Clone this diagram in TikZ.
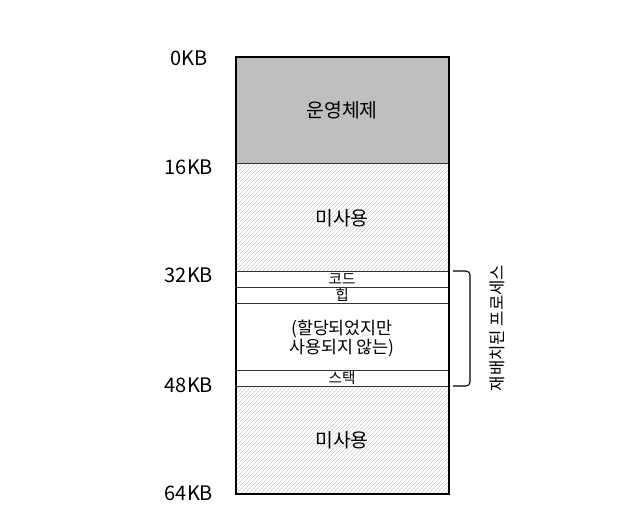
\documentclass[tikz,border=0pt]{standalone}
\usepackage{fontspec}
\setmainfont{Noto Sans CJK KR}
\usetikzlibrary{patterns}

\tikzset{
  unused/.style={pattern=north east lines, pattern color=gray!40},
  segline/.style={draw=black!80, line width=0.6pt},
  addr/.style={font=\fontsize{15}{15}\selectfont},
  small/.style={font=\fontsize{11}{11}\selectfont, inner sep=0pt},
}

\begin{document}
\begin{tikzpicture}[x=0.75pt, y=-0.75pt, font=\fontsize{14.5}{14.5}\selectfont]
\useasboundingbox (0,0) rectangle (620,522);
% memory blocks
\fill[gray!50] (236,57) rectangle (449,163);
\fill[unused] (236,163) rectangle (449,271);
\fill[unused] (236,386) rectangle (449,494);
\foreach \y in {163,271,287,303,370,386}
  \draw[segline] (236,\y) -- (449,\y);
\draw[line width=0.8pt] (236,57) rectangle (449,494);
\node (os) at (342,110) {운영체제};
\node (free1) at (342,218) {미사용};
\node[small] (code) at (342,279) {코드};
\node[small] (heap) at (342,295) {힙};
\node[align=center, font=\fontsize{13}{12.5}\selectfont] (gap) at (342,338) {(할당되었지만\\사용되지 않는)};
\node[small] (stack) at (342,378) {스택};
\node (free2) at (342,440) {미사용};
% addresses
\foreach \y/\t in {58/0KB,167/16KB,275/32KB,385/48KB,493/64KB}
  \node[addr] (addr-\t) at (189,\y) {\t};
% relocated process
\draw[line width=0.8pt, rounded corners=3pt] (453,271) -- (470,271) -- (470,386) -- (453,386);
\node[rotate=90, font=\fontsize{12.5}{12.5}\selectfont] (proc) at (497,328) {재배치된 프로세스};
\end{tikzpicture}
\end{document}
